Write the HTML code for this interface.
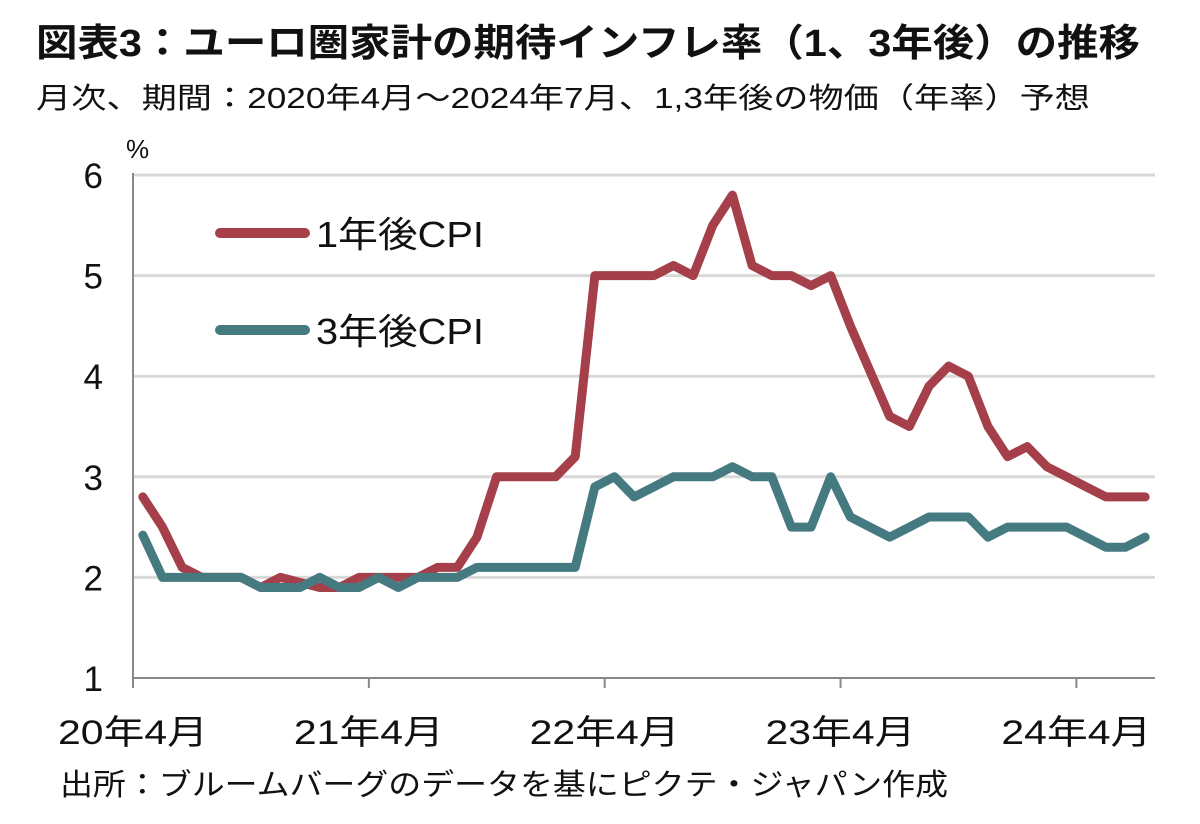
<!DOCTYPE html>
<html><head><meta charset="utf-8"><style>
body{margin:0;background:#fff;width:1200px;height:819px;overflow:hidden;font-family:"Liberation Sans","Noto Sans CJK JP",sans-serif;}
svg text{font-family:"Liberation Sans","Noto Sans CJK JP",sans-serif;fill:#111;}
</style></head><body>
<svg id="c" width="1200" height="819">
<text x="36" y="56" font-size="38" font-weight="bold" textLength="1104" lengthAdjust="spacingAndGlyphs">図表3：ユーロ圏家計の期待インフレ率（1、3年後）の推移</text>
<text x="36" y="108" font-size="29" textLength="1054" lengthAdjust="spacingAndGlyphs">月次、期間：2020年4月～2024年7月、1,3年後の物価（年率）予想</text>
<text x="126" y="158" font-size="26">%</text>
<text x="60" y="795" font-size="30" textLength="888" lengthAdjust="spacingAndGlyphs">出所：ブルームバーグのデータを基にピクテ・ジャパン作成</text>
<g id="grid"></g><g id="axes"></g><g id="lines"></g>
<g>
<line x1="220" y1="233" x2="305" y2="233" stroke="#a5404a" stroke-width="10" stroke-linecap="round"/>
<text x="316" y="247" font-size="36" textLength="168" lengthAdjust="spacingAndGlyphs">1年後CPI</text>
<line x1="220" y1="330" x2="305" y2="330" stroke="#457a80" stroke-width="10" stroke-linecap="round"/>
<text x="316" y="344" font-size="36" textLength="168" lengthAdjust="spacingAndGlyphs">3年後CPI</text>
</g>
</svg>
<script>
const yTicks=[1,2,3,4,5,6];
const xTickLabels=["20年4月","21年4月","22年4月","23年4月","24年4月"];
const cpi1y=[2.8,2.5,2.1,2.0,2.0,2.0,1.9,2.0,1.95,1.9,1.9,2.0,2.0,2.0,2.0,2.1,2.1,2.4,3.0,3.0,3.0,3.0,3.2,5.0,5.0,5.0,5.0,5.1,5.0,5.5,5.8,5.1,5.0,5.0,4.9,5.0,4.5,4.05,3.6,3.5,3.9,4.1,4.0,3.5,3.2,3.3,3.1,3.0,2.9,2.8,2.8,2.8];
const cpi3y=[2.42,2.0,2.0,2.0,2.0,2.0,1.9,1.9,1.9,2.0,1.9,1.9,2.0,1.9,2.0,2.0,2.0,2.1,2.1,2.1,2.1,2.1,2.1,2.9,3.0,2.8,2.9,3.0,3.0,3.0,3.1,3.0,3.0,2.5,2.5,3.0,2.6,2.5,2.4,2.5,2.6,2.6,2.6,2.4,2.5,2.5,2.5,2.5,2.4,2.3,2.3,2.4];
const NS="http://www.w3.org/2000/svg";
const L=133,R=1155,T=175,B=678,nCat=52;
const yS=v=>B-(v-1)/(6-1)*(B-T);
const cw=(R-L)/nCat;
const xS=i=>L+(i+0.5)*cw;
function mk(tag,attrs,parent){const e=document.createElementNS(NS,tag);for(const k in attrs)e.setAttribute(k,attrs[k]);document.getElementById(parent).appendChild(e);return e;}
yTicks.forEach(v=>{
  if(v>1){const g=mk('line',{x1:L,x2:R,y1:yS(v),y2:yS(v),stroke:'#d9d9d9','stroke-width':3},'grid');
  
  }
  const t=mk('text',{x:103,y:yS(v)+13,'font-size':35,'text-anchor':'end'},'axes');t.textContent=v;
  
  
});
const ya=mk('line',{x1:L,x2:L,y1:T-2,y2:B,stroke:'#888','stroke-width':2},'axes');


const xa=mk('line',{x1:L,x2:R,y1:B,y2:B,stroke:'#888','stroke-width':2},'axes');


xTickLabels.forEach((s,k)=>{
  const x=L+k*12*cw;
  const tk=mk('line',{x1:x,x2:x,y1:B,y2:B+10,stroke:'#888','stroke-width':2},'axes');
  
  
  const t=mk('text',{x:x-75,y:744,'font-size':34,textLength:150,lengthAdjust:'spacingAndGlyphs'},'axes');t.textContent=s;
  
  
});
function series(data,color,name){
  const p=mk('polyline',{points:data.map((v,i)=>xS(i)+','+yS(v)).join(' '),fill:'none',stroke:color,'stroke-width':9,'stroke-linejoin':'round','stroke-linecap':'round'},'lines');
  
  
}
series(cpi1y,'#a5404a','line-1y-cpi');
series(cpi3y,'#457a80','line-3y-cpi');
</script>
</body></html>
